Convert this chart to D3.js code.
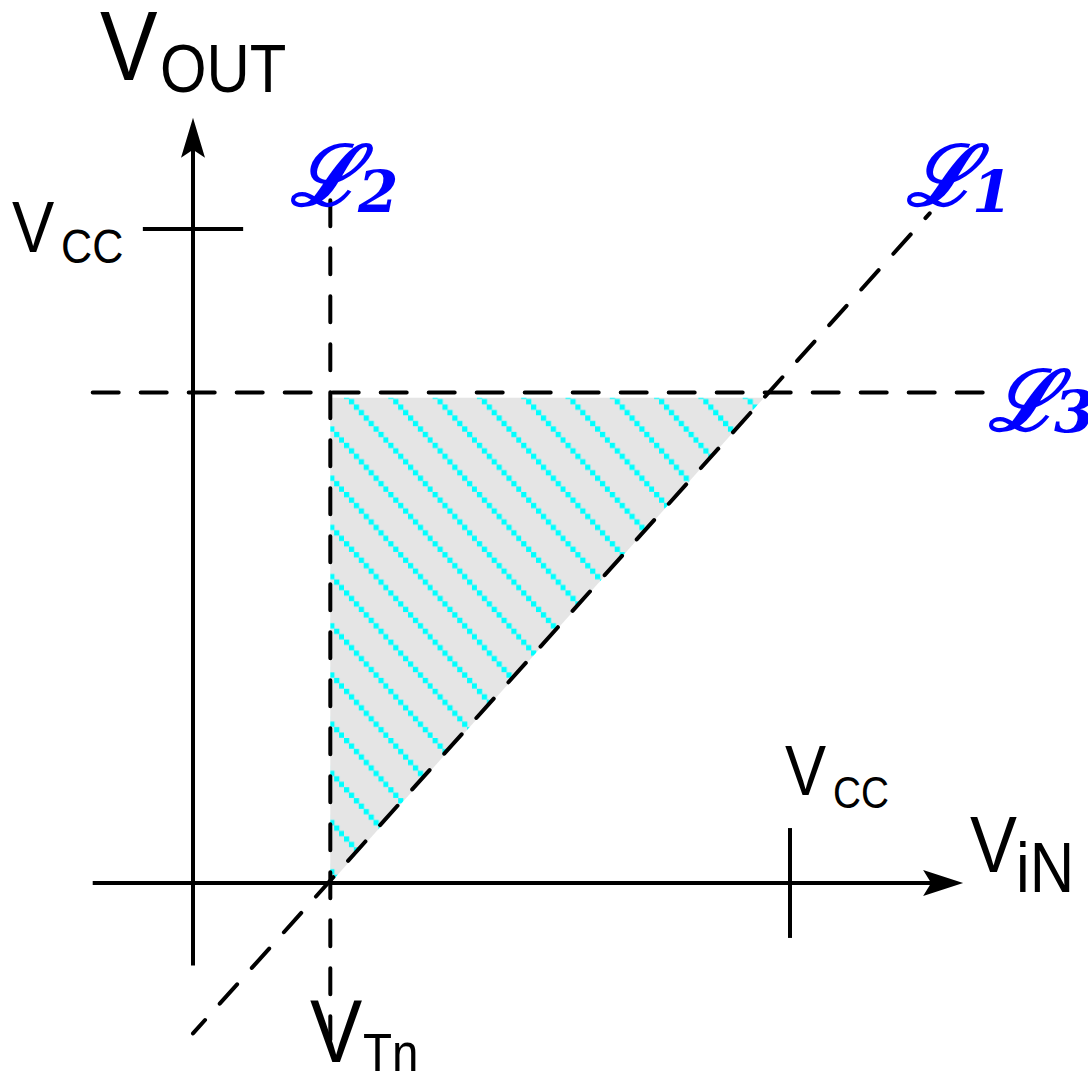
<!DOCTYPE html>
<html><head><meta charset="utf-8">
<script src="https://cdn.jsdelivr.net/npm/d3@7"></script>
<style>body{margin:0;background:#fff}svg{display:block}</style>
</head><body>
<script>
// Data (units: volts, arbitrary)
const Vcc = 5;
const VTn = 1.15;
const L3level = 3.75;
const L1points = [[0, -1.15], [6.17, 5.12]];
const L2range = [-1.2, 5.22];
const L3range = [-0.84, 6.63];
const xAxisRange = [-0.84, 6.45];
const yAxisRange = [-0.63, 5.85];
const tickHalf = 0.42;
const shadeTop = 3.71;

const W = 1088, H = 1074;
const svg = d3.select("body").append("svg").attr("width", W).attr("height", H);
const x = d3.scaleLinear().domain([0, Vcc]).range([193, 790]);
const y = d3.scaleLinear().domain([0, Vcc]).range([883, 229]);

const l1slope = (L1points[1][1] - L1points[0][1]) / (L1points[1][0] - L1points[0][0]);
const l1x = v => L1points[0][0] + (v - L1points[0][1]) / l1slope;

// hatch pattern: stair-stepped cyan stripes parallel to L1
const pw = 44.3, ph = 49.2, nb = 9;
const defs = svg.append("defs");
const pat = defs.append("pattern").attr("id", "hatch").attr("patternUnits", "userSpaceOnUse")
  .attr("width", pw).attr("height", ph).attr("patternTransform", "translate(33.9,0)");
pat.append("rect").attr("width", pw).attr("height", ph).attr("fill", "#e5e5e5");
d3.range(nb).forEach(i => {
  pat.append("rect").attr("x", i * pw / nb).attr("y", i * ph / nb)
    .attr("width", pw / nb + 0.3).attr("height", ph / nb - 0.2)
    .attr("fill", "#00ffff");
});

const tri = [[VTn, 0], [l1x(shadeTop), shadeTop], [VTn, shadeTop]];
svg.append("path").attr("d", d3.line().x(d => x(d[0])).y(d => y(d[1]))(tri) + "Z")
  .attr("fill", "url(#hatch)");

const dash = { stroke: "#000", "stroke-width": 4, "stroke-dasharray": "26,22", "stroke-linecap": "round", fill: "none" };
function line(pts, style) {
  const p = svg.append("path").attr("d", d3.line().x(d => x(d[0])).y(d => y(d[1]))(pts));
  Object.entries(style).forEach(([k, v]) => p.attr(k, v));
  return p;
}
line([[L3range[0], L3level], [L3range[1], L3level]], dash);
line([[VTn, L2range[1]], [VTn, L2range[0]]], dash);
line([L1points[0], L1points[1]], dash).attr("stroke-dashoffset", 8);

const solid = { stroke: "#000", "stroke-width": 4, fill: "none" };
line([[xAxisRange[0], 0], [xAxisRange[1] - 0.2, 0]], solid);
line([[0, yAxisRange[0]], [0, yAxisRange[1] - 0.2]], solid);
line([[-tickHalf, Vcc], [tickHalf, Vcc]], solid);
line([[Vcc, -tickHalf], [Vcc, tickHalf]], solid);

// arrowheads
const xa = x(xAxisRange[1]), ya = y(0);
svg.append("path").attr("d", `M${xa},${ya} L${xa - 40},${ya - 13} L${xa - 32},${ya} L${xa - 40},${ya + 13}Z`).attr("fill", "#000");
const xb = x(0), yb = y(yAxisRange[1]);
svg.append("path").attr("d", `M${xb},${yb} L${xb - 12},${yb + 40} L${xb},${yb + 32} L${xb + 12},${yb + 40}Z`).attr("fill", "#000");

// labels
function lab(main, sub, px, py, fs, sx, sy, sfs) {
  const g = svg.append("g").attr("font-family", "'Liberation Sans', Arial, sans-serif").attr("fill", "#000");
  g.append("text").attr("transform", `translate(${px},${py}) scale(0.88,1)`).attr("font-size", fs).text(main);
  g.append("text").attr("transform", `translate(${sx},${sy}) scale(0.88,1)`).attr("font-size", sfs).text(sub);
}
lab("V", "OUT", 100, 80, 98, 160, 92, 68);
lab("V", "CC", 12, 252, 72, 61, 263, 49);
lab("V", "CC", 785, 795, 70, 833, 808, 44);
lab("V", "iN", 970, 872, 80, 1016, 892, 70);
lab("V", "Tn", 310, 1062, 89, 363, 1071, 54);

function Llab(sub, px, py, sx, sy) {
  const g = svg.append("g").attr("fill", "#0000ff").attr("font-weight", "bold").attr("font-style", "italic");
  g.append("text").attr("x", px).attr("y", py).attr("font-size", 84).attr("font-family", "'DejaVu Serif', serif").text("\u2112");
  g.append("text").attr("x", sx).attr("y", sy).attr("font-size", 58).attr("font-family", "'DejaVu Serif', serif").text(sub);
}
Llab("2", 290, 205, 358, 212);
Llab("1", 906, 205, 972, 212);
Llab("3", 988, 430, 1054, 432);
</script>
</body></html>
